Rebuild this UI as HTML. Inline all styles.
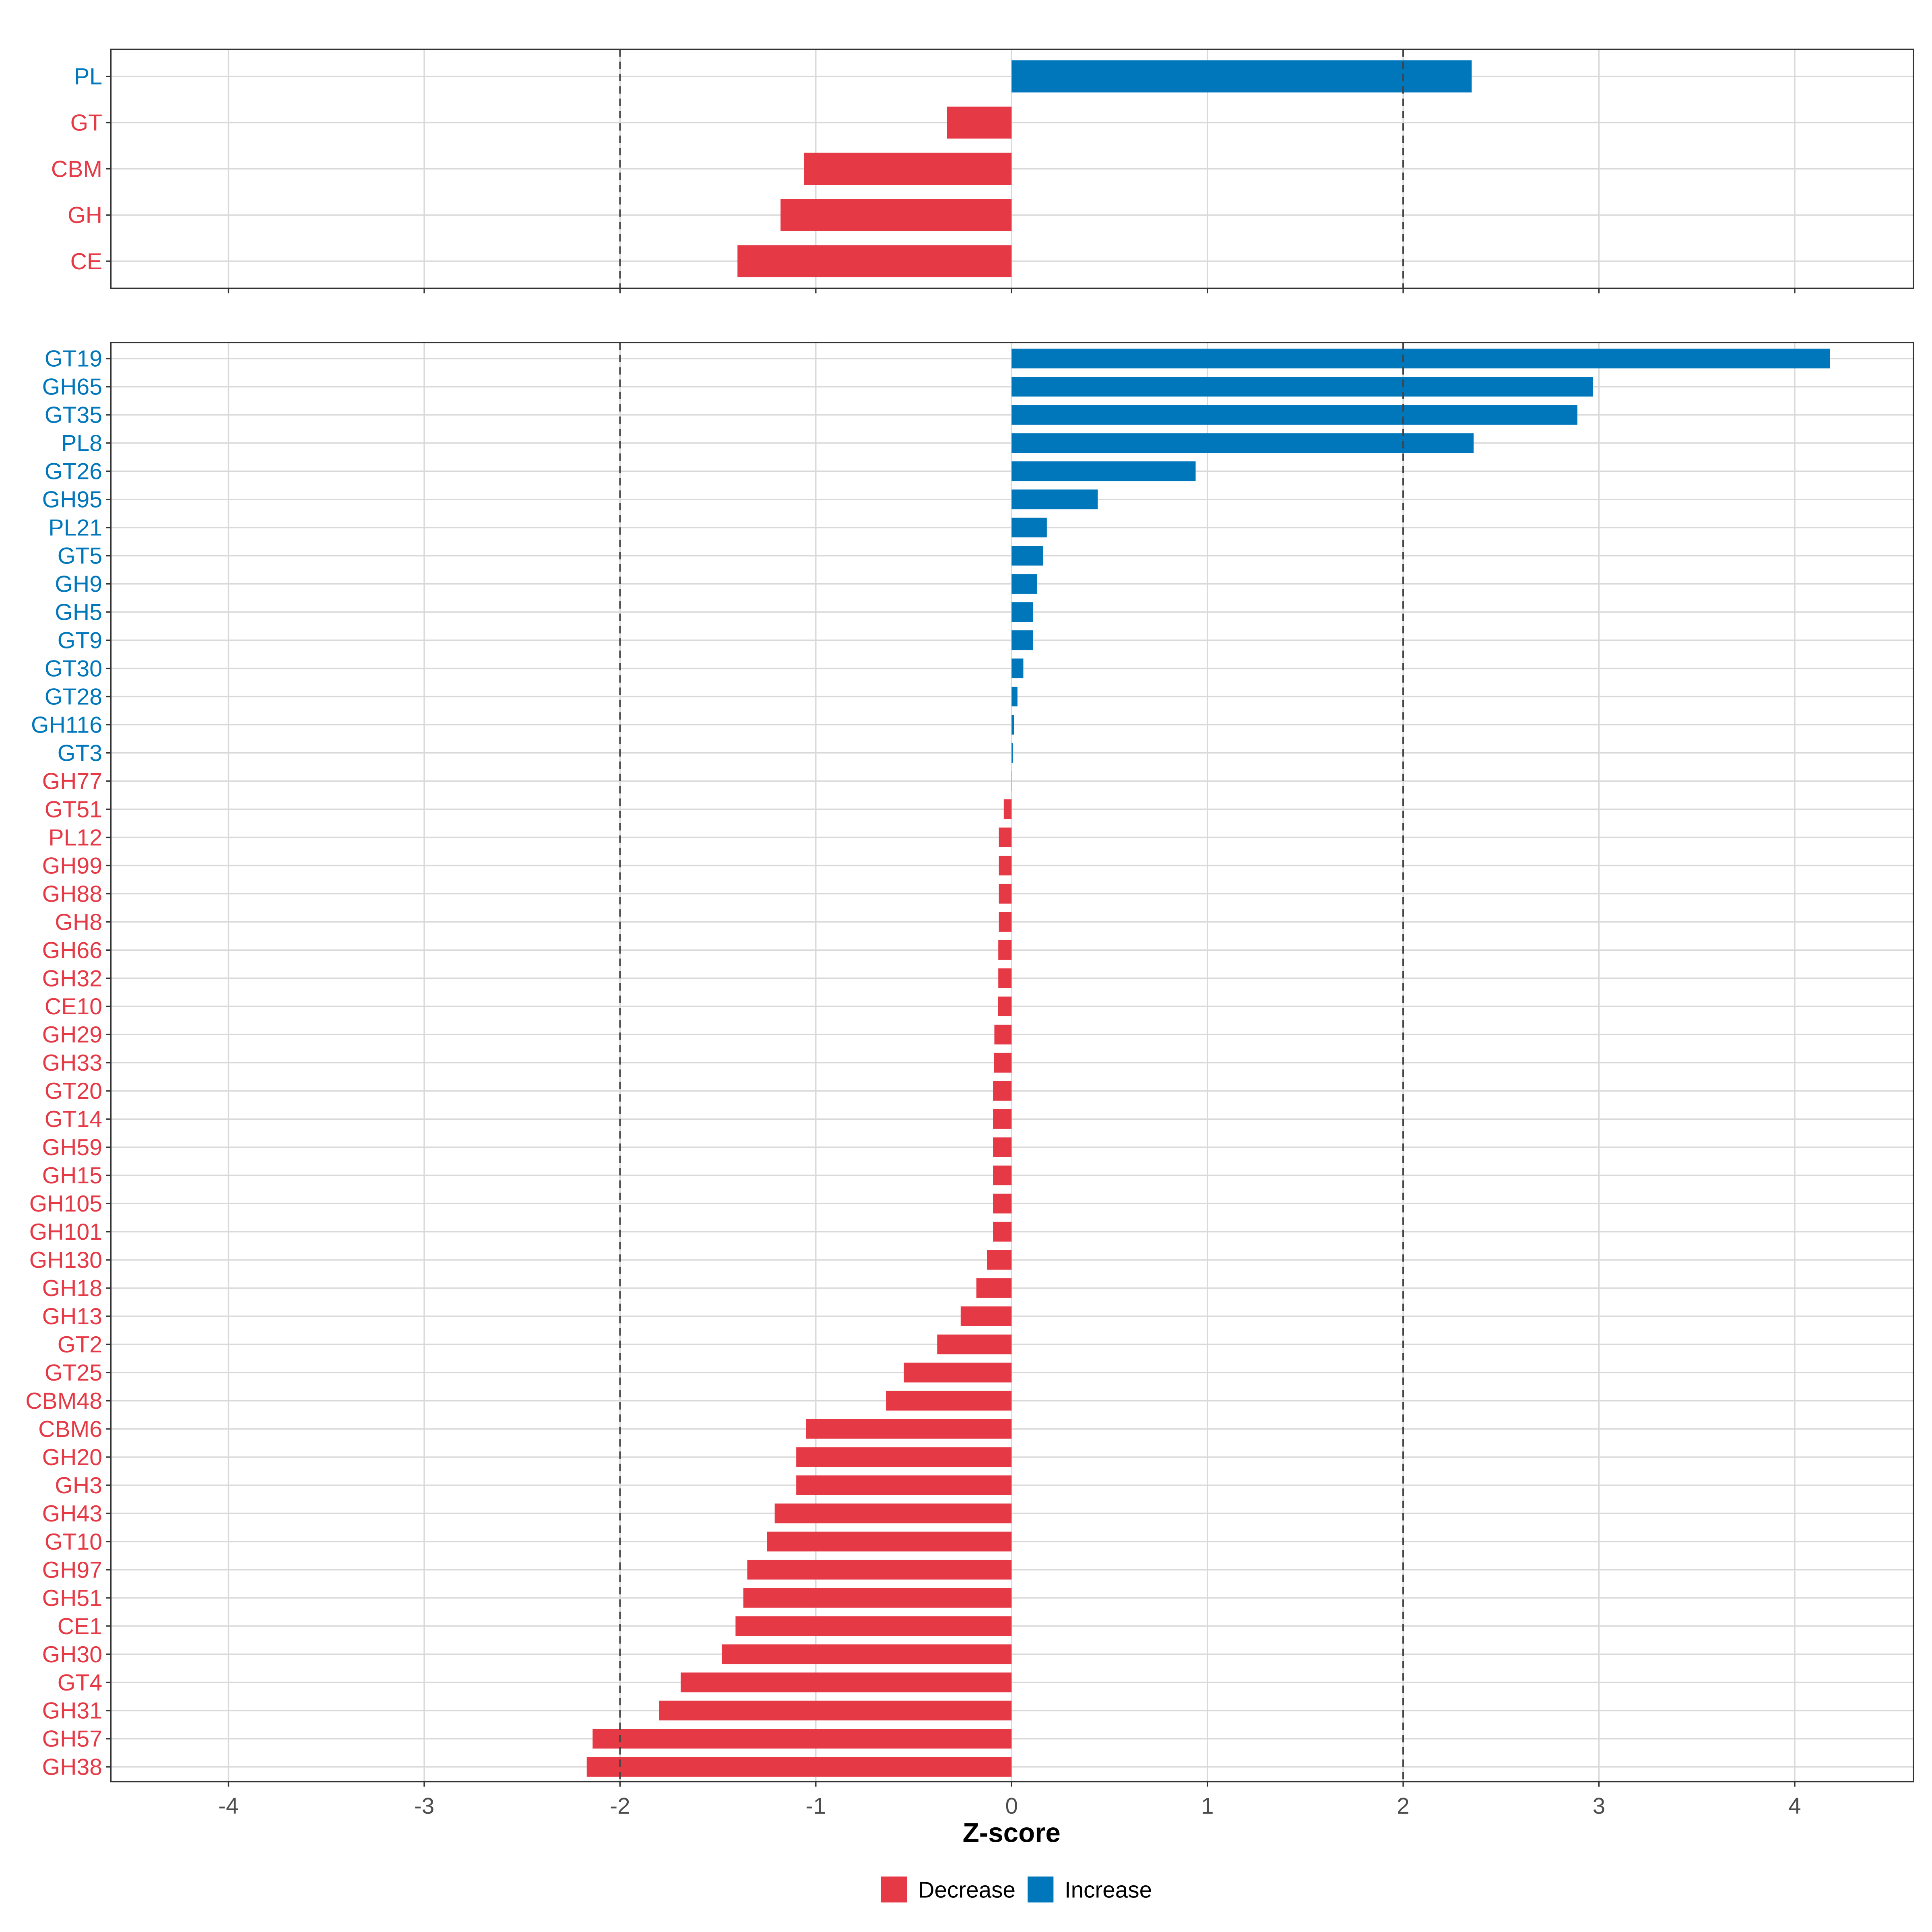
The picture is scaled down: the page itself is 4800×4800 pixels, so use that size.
<!DOCTYPE html>
<html><head><meta charset="utf-8"><style>
html,body{margin:0;padding:0;background:#fff}
svg{display:block}
text{font-family:"Liberation Sans",sans-serif}
</style></head><body>
<svg id="chart" width="4800" height="4800" viewBox="0 0 1568 1568" xmlns="http://www.w3.org/2000/svg"></svg>
<script>
const topCats=["PL","GT","CBM","GH","CE"];
const topVals=[2.35,-0.33,-1.06,-1.18,-1.40];
const botCats=["GT19","GH65","GT35","PL8","GT26","GH95","PL21","GT5","GH9","GH5","GT9","GT30","GT28","GH116","GT3","GH77","GT51","PL12","GH99","GH88","GH8","GH66","GH32","CE10","GH29","GH33","GT20","GT14","GH59","GH15","GH105","GH101","GH130","GH18","GH13","GT2","GT25","CBM48","CBM6","GH20","GH3","GH43","GT10","GH97","GH51","CE1","GH30","GT4","GH31","GH57","GH38"];
const botVals=[4.18,2.97,2.89,2.36,0.94,0.44,0.18,0.16,0.13,0.11,0.11,0.06,0.03,0.012,0.006,-0.001,-0.04,-0.065,-0.065,-0.065,-0.065,-0.068,-0.068,-0.07,-0.088,-0.09,-0.095,-0.095,-0.095,-0.095,-0.095,-0.095,-0.126,-0.18,-0.26,-0.38,-0.55,-0.64,-1.05,-1.10,-1.10,-1.21,-1.25,-1.35,-1.37,-1.41,-1.48,-1.69,-1.80,-2.14,-2.17];
const xTicks=[-4,-3,-2,-1,0,1,2,3,4];
const refLines=[-2,2];
const RED="#E63946",BLUE="#0077BB";
const svg=document.getElementById('chart');
const NS="http://www.w3.org/2000/svg";
function mk(tag,attrs,parent){const e=document.createElementNS(NS,tag);for(const k in attrs)e.setAttribute(k,attrs[k]);(parent||svg).appendChild(e);return e;}
function x(v){return 821+v*158.9;}
const L=90,R=1553;
function panel(cats,vals,y0,y1,first,last,bh,name){
  const g=mk('g',{});
  
  
  const step=(last-first)/(cats.length-1);
  const y=i=>first+i*step;
  xTicks.forEach(t=>{const l=mk('line',{x1:x(t),x2:x(t),y1:y0,y2:y1,stroke:'#d9d9d9','stroke-width':1.1},g);
    });
  cats.forEach((c,i)=>{const l=mk('line',{x1:L,x2:R,y1:y(i),y2:y(i),stroke:'#d9d9d9','stroke-width':1.1},g);
    });
  cats.forEach((c,i)=>{const v=vals[i];
    const r=mk('rect',{x:Math.min(x(0),x(v)),y:y(i)-bh/2,width:Math.abs(x(v)-x(0)),height:bh,fill:v>=0?BLUE:RED},g);
    
    const t=mk('text',{x:83,y:y(i)+6.5,'text-anchor':'end','font-size':18.7,fill:v>=0?BLUE:RED},g);t.textContent=c;
    
    mk('line',{x1:86,x2:90,y1:y(i),y2:y(i),stroke:'#333','stroke-width':1.1},g);});
  refLines.forEach(t=>{const l=mk('line',{x1:x(t),x2:x(t),y1:y0,y2:y1,stroke:'#444','stroke-width':1.3,'stroke-dasharray':'6,4'},g);
    });
  xTicks.forEach(t=>mk('line',{x1:x(t),x2:x(t),y1:y1,y2:y1+4,stroke:'#333','stroke-width':1.1},g));
  const b=mk('rect',{x:L,y:y0,width:R-L,height:y1-y0,fill:'none',stroke:'#333','stroke-width':1.1},g);
  
}
panel(topCats,topVals,40,234,62,212,26,'top-panel');
panel(botCats,botVals,278,1446,291,1434,16,'bottom-panel');
xTicks.forEach(t=>{const e=mk('text',{x:x(t),y:1472,'text-anchor':'middle','font-size':18.5,fill:'#4d4d4d'});e.textContent=String(t);
  });
const ti=mk('text',{x:821,y:1495,'text-anchor':'middle','font-size':22,'font-weight':'bold',fill:'#000'});ti.textContent='Z-score';

const lg=mk('g',{});
const r1=mk('rect',{x:715,y:1523,width:21,height:21,fill:RED},lg);
const t1=mk('text',{x:745,y:1540,'font-size':18.5,fill:'#000'},lg);t1.textContent='Decrease';
const r2=mk('rect',{x:834,y:1523,width:21,height:21,fill:BLUE},lg);
const t2=mk('text',{x:864,y:1540,'font-size':18.5,fill:'#000'},lg);t2.textContent='Increase';
</script>
</body></html>
